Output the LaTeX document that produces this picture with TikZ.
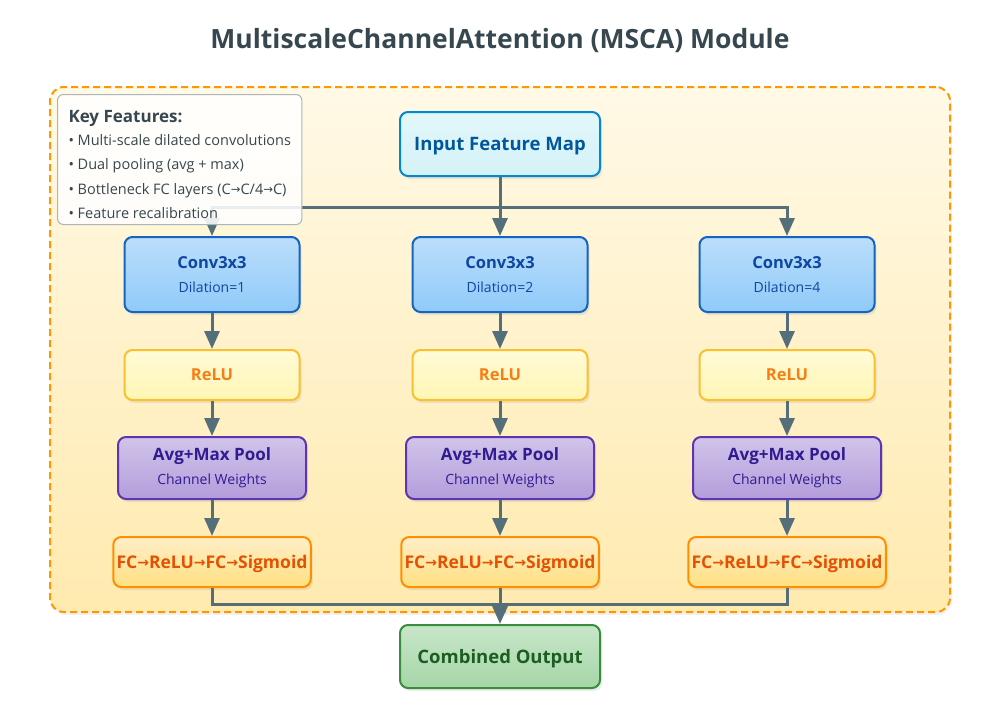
\documentclass[tikz,border=0pt]{standalone}
\usepackage{fontspec}
\setmainfont{Open Sans}
\newfontfamily\flechas{DejaVu Sans}
\newcommand{\fl}{\raisebox{.05em}{\scalebox{.8}{\flechas →}}}
\usetikzlibrary{positioning,shadows,arrows.meta}
\definecolor{gris}{HTML}{546E7A}
\definecolor{pizarra}{HTML}{37474F}
\definecolor{naranja}{HTML}{FF9800}
\definecolor{inborde}{HTML}{0288D1}
\definecolor{intexto}{HTML}{01579B}
\definecolor{convborde}{HTML}{1565C0}
\definecolor{convtexto}{HTML}{0D47A1}
\definecolor{reluborde}{HTML}{FBC02D}
\definecolor{relutexto}{HTML}{F57F17}
\definecolor{poolborde}{HTML}{5E35B1}
\definecolor{pooltexto}{HTML}{311B92}
\definecolor{fcborde}{HTML}{FF8F00}
\definecolor{fctexto}{HTML}{E65100}
\definecolor{outborde}{HTML}{388E3C}
\definecolor{outtexto}{HTML}{1B5E20}
\begin{document}
\begin{tikzpicture}[x=1pt,y=-1pt,
    caja/.style={rounded corners=8pt, line width=2pt, align=center,
        drop shadow={opacity=.15, shadow xshift=2pt, shadow yshift=-3pt}},
    entrada/.style={caja, draw=inborde, top color={rgb,255:red,226;green,247;blue,250},
        bottom color={rgb,255:red,212;green,242;blue,248},
        text=intexto, minimum width=200pt, minimum height=64pt},
    conv/.style={caja, draw=convborde, top color={rgb,255:red,187;green,222;blue,251},
        bottom color={rgb,255:red,144;green,202;blue,249},
        text=convtexto, minimum width=175pt, minimum height=75pt},
    relu/.style={caja, draw=reluborde, top color={rgb,255:red,255;green,251;blue,215},
        bottom color={rgb,255:red,255;green,245;blue,180},
        text=relutexto, minimum width=175pt, minimum height=50pt},
    pool/.style={caja, draw=poolborde, top color={rgb,255:red,209;green,196;blue,233},
        bottom color={rgb,255:red,179;green,157;blue,219},
        text=pooltexto, minimum width=188pt, minimum height=62pt},
    fc/.style={caja, draw=fcborde, top color={rgb,255:red,255;green,238;blue,200},
        bottom color={rgb,255:red,255;green,224;blue,130},
        text=fctexto, minimum width=188pt, minimum height=50pt},
    salida/.style={caja, draw=outborde, top color={rgb,255:red,200;green,230;blue,201},
        bottom color={rgb,255:red,165;green,214;blue,167},
        text=outtexto, minimum width=200pt, minimum height=63pt},
    flecha/.style={line width=3pt, draw=gris, -{Triangle[length=18pt,width=15pt]}},
    linea/.style={line width=3pt, draw=gris}]
    \useasboundingbox (0,0) rectangle (1000,725);
    % Titulo
    \node[text=pizarra, font=\bfseries\fontsize{26.5}{30}\selectfont] (titulo) at (500,41)
        {MultiscaleChannelAttention (MSCA) Module};
    % Fondo
    \node[draw=naranja, line width=2pt, dash pattern=on 7pt off 4pt, rounded corners=14pt,
        top color={rgb,255:red,255;green,249;blue,230}, bottom color={rgb,255:red,255;green,234;blue,175},
        drop shadow={opacity=.1, shadow xshift=2pt, shadow yshift=-3pt},
        minimum width=900pt, minimum height=525pt] (fondo) at (500,349.5) {};
    % Entrada y salida
    \node[entrada, text depth=0pt, font=\bfseries\fontsize{18.5}{22}\selectfont] (in) at (500,144) {Input Feature Map};
    \node[salida, text depth=0pt, font=\bfseries\fontsize{18.5}{22}\selectfont] (out) at (500,656.5) {Combined Output};
    \coordinate (reparto) at (500,207);
    \coordinate (suma) at (500,604);
    \draw[linea] (in) -- (reparto);
    % Ramas
    \foreach \x/\d/\n in {212/1/a,500/2/b,787/4/c}{
        \node[conv] (conv\n) at (\x,274.5)
            {{\bfseries\fontsize{16.5}{19}\selectfont Conv3x3}\\[12pt]
             {\fontsize{14}{16}\selectfont Dilation=\d}};
        \node[relu, font=\bfseries\fontsize{16.5}{19}\selectfont] (relu\n) at (\x,375) {ReLU};
        \node[pool] (pool\n) at (\x,468)
            {{\bfseries\fontsize{17}{19}\selectfont Avg+Max Pool}\\[8pt]
             {\fontsize{14}{16}\selectfont Channel Weights}};
        \node[fc, text depth=0pt, font=\bfseries\fontsize{17.5}{19}\selectfont] (fc\n) at (\x,562)
            {FC\fl ReLU\fl FC\fl Sigmoid};
        \draw[flecha] (reparto) -| (conv\n.north);
        \draw[flecha] (conv\n) -- (relu\n);
        \draw[flecha] (relu\n) -- (pool\n);
        \draw[flecha] (pool\n) -- (fc\n);
        \draw[linea] (fc\n.south) |- (suma);
    }
    \draw[flecha] (suma) -- (out);
    % Cuadro de claves
    \node[anchor=north west, draw=gris!50, line width=1pt, rounded corners=6pt,
        fill=white, fill opacity=.88, text opacity=1, text=pizarra,
        font=\fontsize{14.5}{17}\selectfont,
        minimum width=243pt, minimum height=130pt,
        inner xsep=11pt, inner ysep=4pt, align=left] (claves) at (57,94)
        {\rule{0pt}{22pt}{\bfseries\fontsize{17}{20}\selectfont Key Features:}\\[6pt]
         • Multi-scale dilated convolutions\\[7.5pt]
         • Dual pooling (avg + max)\\[7.5pt]
         • Bottleneck FC layers (C\fl C/4\fl C)\\[7.5pt]
         • Feature recalibration};
\end{tikzpicture}
\end{document}
